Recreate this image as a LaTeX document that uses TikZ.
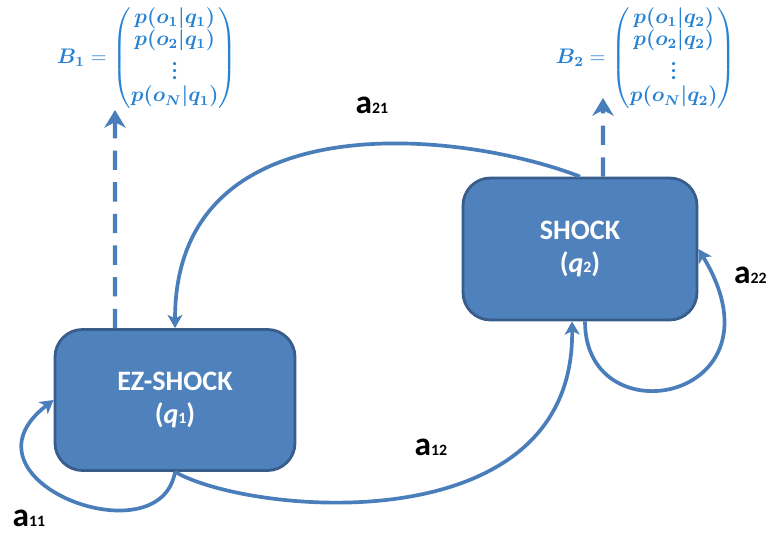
\documentclass[tikz,border=0pt]{standalone}
\usepackage{amsmath}
\usepackage{bm}
\usepackage{fontspec}
\setmainfont{Carlito}
\usetikzlibrary{arrows.meta}

\definecolor{boxblue}{RGB}{79,129,189}
\definecolor{boxedge}{RGB}{56,93,138}
\definecolor{linkblue}{RGB}{74,126,187}
\definecolor{probblue}{RGB}{40,130,210}

% column of emission probabilities for state #1
\newcommand{\emitvec}[1]{%
  \begingroup\def\arraystretch{0.76}%
  $\bm{B_{#1}} = \begin{pmatrix} \bm{p(o_1|q_{#1})}\\ \bm{p(o_2|q_{#1})}\\ \bm{\vdots}\\ \bm{p(o_N|q_{#1})} \end{pmatrix}$%
  \endgroup}

\begin{document}
\begin{tikzpicture}[
    state/.style={draw=boxedge, line width=1.6pt, fill=boxblue, rounded corners=0.55cm,
      minimum width=4.8cm, minimum height=2.82cm, text=white, align=center,
      font=\fontsize{16}{19}\selectfont\bfseries},
    trans/.style={draw=linkblue, line width=2.1pt, -{Stealth[length=7.5pt,width=8.5pt,inset=2pt]}},
    emit/.style={draw=linkblue, line width=2.5pt, dash pattern=on 11pt off 7pt,
      -{Stealth[length=10pt,width=12pt,inset=3pt]}},
    prob/.style={text=probblue, font=\fontsize{12}{16}\selectfont},
    lbl/.style={font=\fontsize{19}{20}\selectfont\bfseries}
  ]
  \useasboundingbox (0,0) rectangle (15.32,10.66);

  % the two states
  \node[state] (ez) at (3.5,2.66) {EZ-SHOCK\\(\textit{q}{\small 1})};
  \node[state, minimum width=4.68cm, minimum height=2.84cm] (shock) at (11.6,5.68) {SHOCK\\(\textit{q}{\small 2})};

  % emission vectors
  \node[prob] (b1) at (2.94,9.5) {\emitvec{1}};
  \node[prob] (b2) at (12.92,9.5) {\emitvec{2}};
  \coordinate (b1in) at (2.3,8.46);
  \coordinate (b2in) at (12.06,8.7);
  \draw[emit] ([xshift=-1.2cm]ez.north) -- (b1in);
  \draw[emit] ([xshift=0.46cm]shock.north) -- (b2in);

  % transitions
  \draw[trans] (shock.north) .. controls (9.2,8.06) and (3.5,8.66) .. (ez.north);
  \draw[trans] (ez.south) .. controls (5.0,0.36) and (11.5,-0.24) .. ([xshift=-0.16cm]shock.south);
  \draw[trans] (ez.south) .. controls (3.2,-0.54) and (-1.0,1.06) .. (ez.west);
  \draw[trans] ([xshift=0.1cm]shock.south) .. controls (11.7,1.86) and (15.8,2.66) .. (shock.east);

  \node[lbl] (a21) at (7.44,8.56) {a{\fontsize{9}{10}\selectfont 21}};
  \node[lbl] (a12) at (8.62,1.72) {a{\fontsize{9}{10}\selectfont 12}};
  \node[lbl] (a11) at (0.58,0.30) {a{\fontsize{9}{10}\selectfont 11}};
  \node[lbl, anchor=west] (a22) at (14.56,5.16) {a{\fontsize{9}{10}\selectfont 22}};
\end{tikzpicture}
\end{document}
